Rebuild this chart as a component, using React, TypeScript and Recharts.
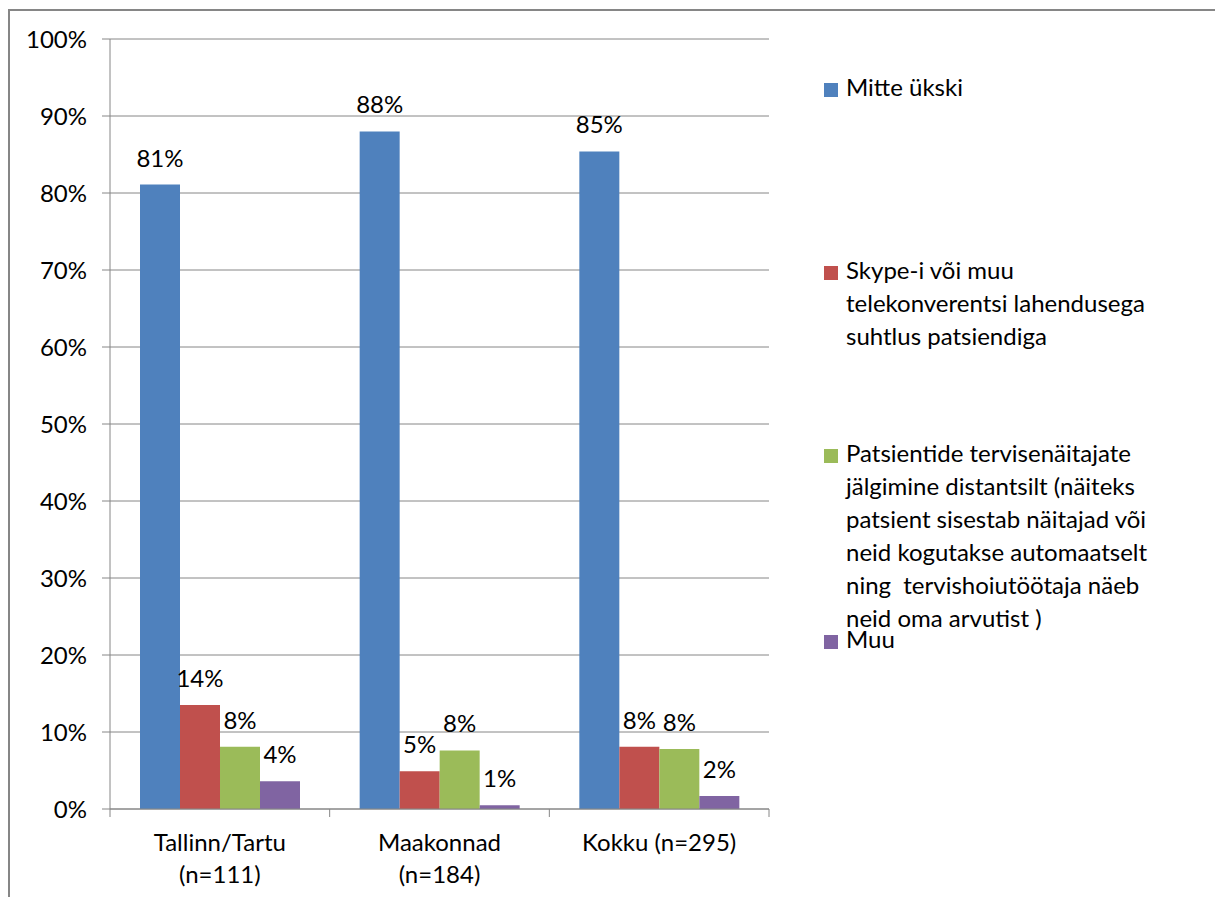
import { Bar, BarChart, CartesianGrid, LabelList, XAxis, YAxis } from "recharts";

const categories = ["Tallinn/Tartu\n(n=111)", "Maakonnad\n(n=184)", "Kokku (n=295)"];

const seriesNames = [
  "Mitte ükski",
  "Skype-i või muu\ntelekonverentsi lahendusega\nsuhtlus patsiendiga",
  "Patsientide tervisenäitajate\njälgimine distantsilt (näiteks\npatsient sisestab näitajad või\nneid kogutakse automaatselt\nning  tervishoiutöötaja näeb\nneid oma arvutist )",
  "Muu",
];

const mitteUkski = [81.1, 88.0, 85.4];
const skype = [13.5, 4.9, 8.1];
const jalgimine = [8.1, 7.6, 7.8];
const muu = [3.6, 0.5, 1.7];

const yTicks = [0, 10, 20, 30, 40, 50, 60, 70, 80, 90, 100];

const colors = ["#4F81BD", "#C0504D", "#9BBB59", "#8064A2"];
const keys = ["s0", "s1", "s2", "s3"];

const data = categories.map((name, i) => ({
  name,
  s0: mitteUkski[i],
  s1: skype[i],
  s2: jalgimine[i],
  s3: muu[i],
}));

const FONT = "Lato, 'Open Sans', sans-serif";
const FS = 24;
const GRID = "#868686";

// legend square tops (relative to the chart box)
const legendTops = [75, 258, 441, 627];

const CategoryTick = (props: any) => {
  const { x, y, payload, index } = props;
  const half = payload?.offset ?? 110;
  const lines = String(payload.value).split("\n");
  return (
    <g>
      <line x1={x - half} x2={x - half} y1={y - 8} y2={y} stroke={GRID} />
      {index === categories.length - 1 && (
        <line x1={x + half} x2={x + half} y1={y - 8} y2={y} stroke={GRID} />
      )}
      <text x={x} y={y} textAnchor="middle" fontFamily={FONT} fontSize={FS} fill="#000">
        {lines.map((l, i) => (
          <tspan key={i} x={x} dy={i === 0 ? 34 : 32}>
            {l}
          </tspan>
        ))}
      </text>
    </g>
  );
};

const App = () => {
  return (
    <div style={{ position: "relative", width: 1215, height: 889, fontFamily: FONT }}>
      <div
        style={{
          position: "absolute",
          left: 0,
          top: 1,
          right: 0,
          bottom: 0,
          borderTop: `2px solid ${GRID}`,
          borderLeft: `2px solid ${GRID}`,
        }}
      />
      <BarChart
        width={1215}
        height={889}
        data={data}
        margin={{ top: 31, right: 454, bottom: 0, left: 0 }}
        barSize={40}
        barGap={0}
      >
        <CartesianGrid vertical={false} stroke={GRID} />
        <YAxis
          width={102}
          domain={[0, 100]}
          ticks={yTicks}
          interval={0}
          tickFormatter={(v: number) => `${v}%`}
          tick={{ fill: "#000", fontSize: FS, fontFamily: FONT }}
          axisLine={{ stroke: GRID }}
          tickLine={{ stroke: GRID }}
          tickSize={8}
          tickMargin={15}
        />
        <XAxis
          dataKey="name"
          height={88}
          interval={0}
          axisLine={{ stroke: GRID }}
          tickLine={false}
          tick={<CategoryTick />}
        />
        {keys.map((k, i) => (
          <Bar key={k} dataKey={k} name={seriesNames[i]} fill={colors[i]} isAnimationActive={false}>
            <LabelList
              dataKey={k}
              position="top"
              offset={18}
              formatter={(v: any) => `${Math.round(Number(v))}%`}
              style={{ fill: "#000", fontSize: FS, fontFamily: FONT }}
            />
          </Bar>
        ))}
      </BarChart>
      {seriesNames.map((name, i) => (
        <div
          key={name}
          style={{ position: "absolute", left: 816, top: legendTops[i], display: "flex", alignItems: "flex-start" }}
        >
          <div style={{ width: 14, height: 14, background: colors[i] }} />
          <div
            style={{
              marginLeft: 8,
              marginTop: -13,
              fontSize: FS,
              lineHeight: "33px",
              color: "#000",
              whiteSpace: "pre",
            }}
          >
            {name}
          </div>
        </div>
      ))}
    </div>
  );
};

export default App;
